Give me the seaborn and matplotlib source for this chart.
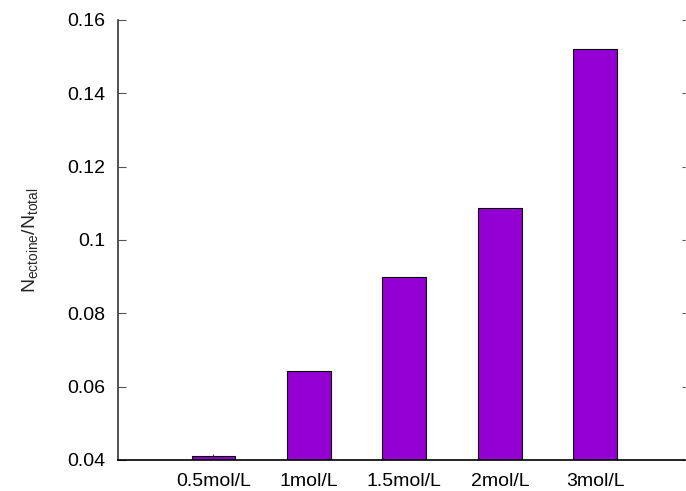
import matplotlib
matplotlib.use("Agg")
import matplotlib.pyplot as plt
import seaborn as sns
import pandas as pd

categories = ["0.5mol/L", "1mol/L", "1.5mol/L", "2mol/L", "3mol/L"]
values = [0.0411, 0.0643, 0.0898, 0.1086, 0.1521]
errors = [0.0006, 0.0, 0.0, 0.0, 0.0]
yticks = [0.04, 0.06, 0.08, 0.10, 0.12, 0.14, 0.16]
ytick_labels = ["0.04", "0.06", "0.08", "0.1", "0.12", "0.14", "0.16"]

sns.set_theme(style="white")
plt.rcParams["font.family"] = ["Liberation Sans", "DejaVu Sans"]
plt.rcParams["mathtext.fontset"] = "custom"
plt.rcParams["mathtext.rm"] = "Liberation Sans"
plt.rcParams["mathtext.it"] = "Liberation Sans:italic"

df = pd.DataFrame({"conc": categories, "ratio": values})

fig = plt.figure(figsize=(6.86, 4.91), dpi=100)
ax = fig.add_axes([118 / 686, 1 - 460 / 491, (685 - 118) / 686, 440 / 491])

sns.barplot(data=df, x="conc", y="ratio", order=categories, color="#9400D3",
            saturation=1, width=0.46, edgecolor="black", linewidth=0.8,
            errorbar=None, ax=ax)
for i, (v, e) in enumerate(zip(values, errors)):
    if e > 0:
        ax.errorbar(i, v, yerr=e, fmt="none", ecolor="#333333", elinewidth=0.7, capsize=0)

ax.set_xlim(-1, 4.94)
ax.set_ylim(0.04, 0.16)
ax.set_yticks(yticks)
ax.set_yticklabels(ytick_labels)
ax.set_xlabel("")
ax.set_ylabel(r"N$_{\mathrm{ectoine}}$/N$_{\mathrm{total}}$", fontsize=14, labelpad=20)

for s in ["top", "right"]:
    ax.spines[s].set_visible(False)
ax.spines["left"].set_color("#333333")
ax.spines["left"].set_linewidth(1.2)
ax.spines["bottom"].set_color("black")
ax.spines["bottom"].set_linewidth(1.2)

ax.tick_params(axis="y", direction="in", length=6, width=0.8, color="#555555",
               labelsize=14, pad=9, right=True, left=True, labelcolor="black")
ax.tick_params(axis="x", length=0, labelsize=14, pad=9, labelcolor="black")
for t in ax.yaxis.get_ticklines()[1::2]:
    t.set_color("#bbbbbb")
    t.set_markersize(2)

fig.savefig("out.png", dpi=100)
